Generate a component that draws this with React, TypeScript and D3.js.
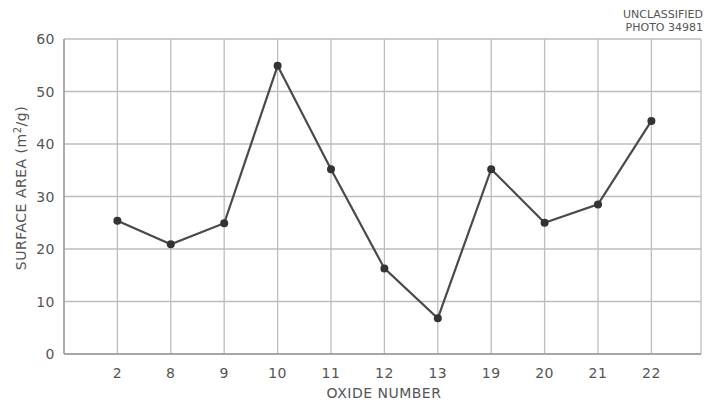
import React from "react";
import * as d3 from "d3";

const categories = ["2", "8", "9", "10", "11", "12", "13", "19", "20", "21", "22"];
const values = [25.4, 20.9, 24.9, 54.9, 35.2, 16.3, 6.8, 35.2, 25.0, 28.5, 44.4];
const yTicks = [0, 10, 20, 30, 40, 50, 60];

const W = 705, H = 405;
const left = 64, right = 701, top = 39, bottom = 354;
const font = "'DejaVu Sans', sans-serif";

export default function App() {
  const x = d3.scaleLinear().domain([-1, categories.length]).range([left, left + 53.4 * (categories.length + 1)]);
  const y = d3.scaleLinear().domain([0, 60]).range([bottom, top]);
  const line = d3.line<number>().x((_, i) => x(i)).y((d) => y(d));
  const textCol = "#555";
  return (
    <svg width={W} height={H} style={{ position: "absolute", left: 0, top: 0, background: "#fff" }}>
      <g>
        {yTicks.map((t) => (
          <line key={"h" + t} x1={left} x2={right} y1={y(t)} y2={y(t)} stroke="#bdbdbd" strokeWidth={1.3} />
        ))}
        {categories.map((c, i) => (
          <line key={"v" + c} x1={x(i)} x2={x(i)} y1={top} y2={bottom} stroke="#bdbdbd" strokeWidth={1.3} />
        ))}
        <line x1={right} x2={right} y1={top} y2={bottom} stroke="#bdbdbd" strokeWidth={1.3} />
        <line x1={left} x2={left} y1={top} y2={bottom} stroke="#999" strokeWidth={1.6} />
        <line x1={left} x2={right} y1={bottom} y2={bottom} stroke="#999" strokeWidth={1.6} />
      </g>
      {yTicks.map((t) => (
        <text key={"yt" + t} x={55} y={y(t)} dy="0.36em" textAnchor="end" fontFamily={font} fontSize={14} letterSpacing={0.5} fill={textCol}>
          {t}
        </text>
      ))}
      {categories.map((c, i) => (
        <text key={"xt" + c} x={x(i)} y={373} dy="0.36em" textAnchor="middle" fontFamily={font} fontSize={14} letterSpacing={0.5} fill={textCol}>
          {c}
        </text>
      ))}
      <text x={384} y={393} dy="0.36em" textAnchor="middle" fontFamily={font} fontSize={14} letterSpacing={0.5} fill={textCol}>
        OXIDE NUMBER
      </text>
      <text transform={`translate(21,188) rotate(-90)`} textAnchor="middle" dy="0.36em" fontFamily={font} fontSize={14} letterSpacing={0.5} fill={textCol}>
        SURFACE AREA (m<tspan dy="-5" fontSize={10}>2</tspan><tspan dy="5">/g)</tspan>
      </text>
      <text x={703} y={14} dy="0.36em" textAnchor="end" fontFamily={font} fontSize={11} fill={textCol}>UNCLASSIFIED</text>
      <text x={703} y={27} dy="0.36em" textAnchor="end" fontFamily={font} fontSize={11} fill={textCol}>PHOTO 34981</text>
      <path d={line(values) || ""} fill="none" stroke="#4a4a4a" strokeWidth={2.2} />
      {values.map((v, i) => (
        <circle key={"p" + i} cx={x(i)} cy={y(v)} r={4} fill="#333" />
      ))}
    </svg>
  );
}
